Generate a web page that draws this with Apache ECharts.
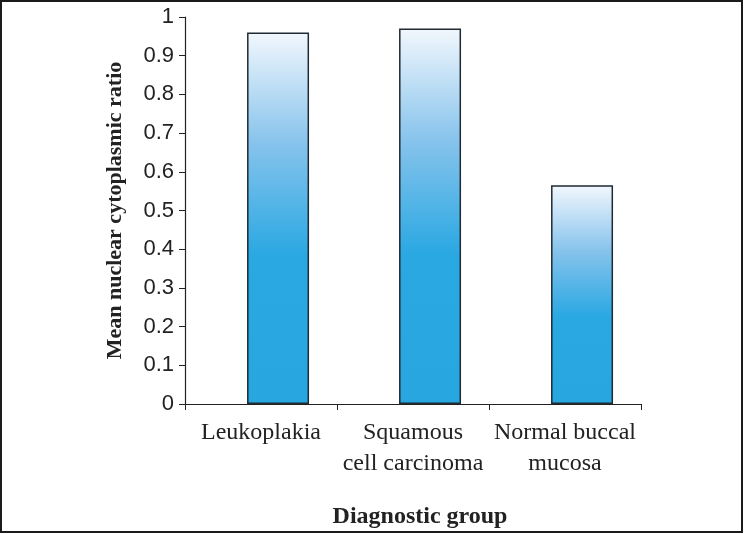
<!DOCTYPE html>
<html><head><meta charset="utf-8">
<script src="https://cdn.jsdelivr.net/npm/echarts@6/dist/echarts.min.js"></script>
<style>html,body{margin:0;padding:0;background:#fff}#c{width:744px;height:534px}</style>
</head><body><div id="c"></div>
<script>
const categories = ["Leukoplakia", "Squamous\ncell carcinoma", "Normal buccal\nmucosa"];
const ratioValues = [0.96, 0.97, 0.565];
const yTicks = { min: 0, max: 1, interval: 0.1 };
const xTitle = "Diagnostic group";
const yTitle = "Mean nuclear cytoplasmic ratio";

const chart = echarts.init(document.getElementById('c'), null, {renderer: 'canvas'});
const barColor = new echarts.graphic.LinearGradient(0, 0, 0, 1, [
  {offset: 0, color: '#f2f7fd'},
  {offset: 0.3, color: '#86c3ec'},
  {offset: 0.6, color: '#2aa8e2'},
  {offset: 1, color: '#27a6e0'}
]);
chart.setOption({
  animation: false,
  grid: {left: 185, top: 17, right: 103, bottom: 129, containLabel: false},
  graphic: [{type: 'rect', shape: {x: 1, y: 1, width: 741, height: 531},
    style: {fill: 'none', stroke: '#1a1a1a', lineWidth: 2}, silent: true}],
  xAxis: {
    type: 'category', data: categories,
    name: xTitle, nameLocation: 'middle', nameGap: 101,
    nameTextStyle: {fontFamily: 'Liberation Serif', fontWeight: 'bold', fontSize: 24, color: '#222', padding: [0, 0, 0, 14]},
    axisLine: {lineStyle: {color: '#222', width: 1.2}},
    axisTick: {show: true, length: 6, inside: false, alignWithLabel: false, lineStyle: {color: '#222'}},
    axisLabel: {fontFamily: 'Liberation Serif', fontSize: 24, color: '#222', lineHeight: 31, margin: 13, interval: 0}
  },
  yAxis: {
    type: 'value', min: yTicks.min, max: yTicks.max, interval: yTicks.interval,
    name: yTitle, nameLocation: 'middle', nameGap: 59, nameRotate: 90,
    nameTextStyle: {fontFamily: 'Liberation Serif', fontWeight: 'bold', fontSize: 22, color: '#222'},
    axisLine: {show: true, lineStyle: {color: '#222', width: 1.2}},
    axisTick: {show: true, length: 6, lineStyle: {color: '#222'}},
    splitLine: {show: false},
    axisLabel: {fontFamily: 'Liberation Sans', fontSize: 22, color: '#222', margin: 11,
      formatter: v => String(Math.round(v * 10) / 10)}
  },
  series: [
    {type: 'bar', data: categories.map(() => null), barWidth: 62, barGap: '-45%'},
    {type: 'bar', data: ratioValues, barWidth: 62, barGap: '-45%',
     itemStyle: {color: barColor, borderColor: '#1f2a33', borderWidth: 1.5}}
  ]
});
</script></body></html>
